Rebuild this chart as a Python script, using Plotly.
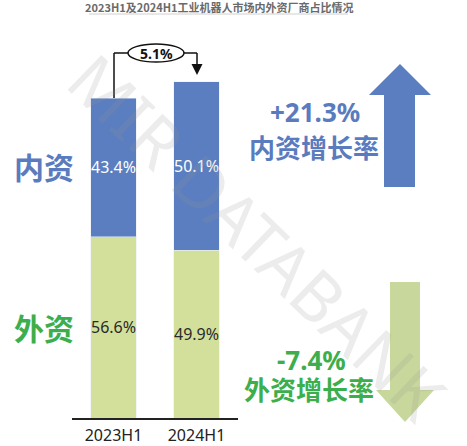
import plotly.graph_objects as go

# ---- data ----
periods = ["2023H1", "2024H1"]
share_domestic = [43.4, 50.1]      # 内资占比 %
share_foreign = [56.6, 49.9]       # 外资占比 %
total_index = [100.0, 105.1]       # market size index (2024H1 = +5.1%)
total_growth_label = "5.1%"
domestic_growth_label = "+21.3%"
foreign_growth_label = "-7.4%"
title_text = "2023H1及2024H1工业机器人市场内外资厂商占比情况"

# absolute segment heights
dom_vals = [s * t / 100 for s, t in zip(share_domestic, total_index)]
for_vals = [s * t / 100 for s, t in zip(share_foreign, total_index)]

BLUE = "#5b7ec0"
BLUE_TXT = "#5a7cbf"
GREEN_BAR = "#d3e09c"
GREEN_TXT = "#3cae4c"
GREEN_ARROW = "#c8d89c"

W, H = 467, 446
ML, MR, MT, MB = 72, 229, 40, 28
PW = W - ML - MR
PH = H - MT - MB


def px(x):
    return (x - ML) / PW


def py(y):
    return (H - MB - y) / PH


fig = go.Figure()
fig.add_bar(
    x=periods, y=for_vals, name="外资", marker_color=GREEN_BAR,
    text=[f"{v:.1f}%" for v in share_foreign], textposition="inside",
    insidetextanchor="middle", textangle=0,
    textfont=dict(family="Noto Sans", size=16, color="#2a2a2a"),
)
fig.add_bar(
    x=periods, y=dom_vals, name="内资", marker_color=BLUE,
    text=[f"{v:.1f}%" for v in share_domestic], textposition="inside",
    insidetextanchor="middle", textangle=0,
    textfont=dict(family="Noto Sans", size=16, color="white"),
)

ymax = PH / 3.2
fig.update_layout(
    width=W, height=H,
    margin=dict(l=ML, r=MR, t=MT, b=MB, autoexpand=False),
    barmode="stack", bargap=0.45,
    showlegend=False,
    uniformtext=dict(minsize=16, mode="show"),
    plot_bgcolor="white", paper_bgcolor="white",
    xaxis=dict(showline=True, linecolor="#222", linewidth=1.5, ticks="",
               automargin=False, ticklabelstandoff=2,
               tickfont=dict(family="Noto Sans", size=16, color="#222"),
               range=[-0.5, 1.5], fixedrange=True),
    yaxis=dict(visible=False, range=[0, ymax], showgrid=False, automargin=False,
               fixedrange=True),
    font=dict(family="Noto Sans CJK SC"),
)


def label(x, y, text, family, size, color, angle=0):
    return dict(x=px(x), y=py(y), xref="paper", yref="paper", text=text,
                showarrow=False, xanchor="center", yanchor="middle", textangle=angle,
                font=dict(family=family, size=size, color=color))


ann = [
    label(258, 236, "MIR DATABANK", "Noto Sans", 68, "rgba(150,150,150,0.18)", angle=44),
    label(219, 7, f"<b>{title_text}</b>", "Noto Sans CJK SC", 11, "#6a6a6a"),
    label(44, 166, "<b>内资</b>", "Noto Sans CJK SC", 30, BLUE_TXT),
    label(44, 327, "<b>外资</b>", "Noto Sans CJK SC", 30, GREEN_TXT),
    label(315, 112, f"<b>{domestic_growth_label}</b>", "Noto Sans", 26, BLUE_TXT),
    label(314, 146, "<b>内资增长率</b>", "Noto Sans CJK SC", 26, BLUE_TXT),
    label(311, 360, f"<b>{foreign_growth_label}</b>", "Noto Sans", 26, GREEN_TXT),
    label(309, 388, "<b>外资增长率</b>", "Noto Sans CJK SC", 26, GREEN_TXT),
    label(156, 53, f"<b>{total_growth_label}</b>", "Noto Sans", 14, "#111"),
]
fig.update_layout(annotations=ann)


def path(points):
    return "M " + " L ".join(f"{px(x):.4f},{py(y):.4f}" for x, y in points) + " Z"


shapes = []
# title underline
shapes.append(dict(type="line", xref="paper", yref="paper", x0=px(89), x1=px(348),
                   y0=py(14), y1=py(14), line=dict(color="#d0d0d0", width=1)))
# bracket
yb = py(53)
shapes.append(dict(type="line", xref="paper", yref="paper", x0=px(114), x1=px(114),
                   y0=py(H - MB - total_index[0] * 3.2), y1=yb, line=dict(color="#111", width=1.5)))
shapes.append(dict(type="line", xref="paper", yref="paper", x0=px(114), x1=px(128),
                   y0=yb, y1=yb, line=dict(color="#111", width=1.5)))
shapes.append(dict(type="line", xref="paper", yref="paper", x0=px(184), x1=px(197),
                   y0=yb, y1=yb, line=dict(color="#111", width=1.5)))
shapes.append(dict(type="line", xref="paper", yref="paper", x0=px(197), x1=px(197),
                   y0=yb, y1=py(65), line=dict(color="#111", width=1.5)))
shapes.append(dict(type="path", xref="paper", yref="paper",
                   path=path([(191.5, 64), (202.5, 64), (197, 75)]),
                   fillcolor="#111", line=dict(width=0)))
shapes.append(dict(type="circle", xref="paper", yref="paper", x0=px(128), x1=px(184),
                   y0=py(62), y1=py(44), fillcolor="white", line=dict(color="#111", width=1.5)))
# blue up arrow
shapes.append(dict(type="path", xref="paper", yref="paper",
                   path=path([(400, 64), (431, 95), (415, 95), (415, 187), (384, 187), (384, 95), (369, 95)]),
                   fillcolor=BLUE, line=dict(width=0)))
# green down arrow
shapes.append(dict(type="path", xref="paper", yref="paper",
                   path=path([(390, 282), (420, 282), (420, 390), (434, 390), (405, 422), (376, 390), (390, 390)]),
                   fillcolor=GREEN_ARROW, line=dict(width=0)))
fig.update_layout(shapes=shapes)

fig.write_html("out.html", config={"displayModeBar": False},
               post_script="document.body.style.margin='0';")
